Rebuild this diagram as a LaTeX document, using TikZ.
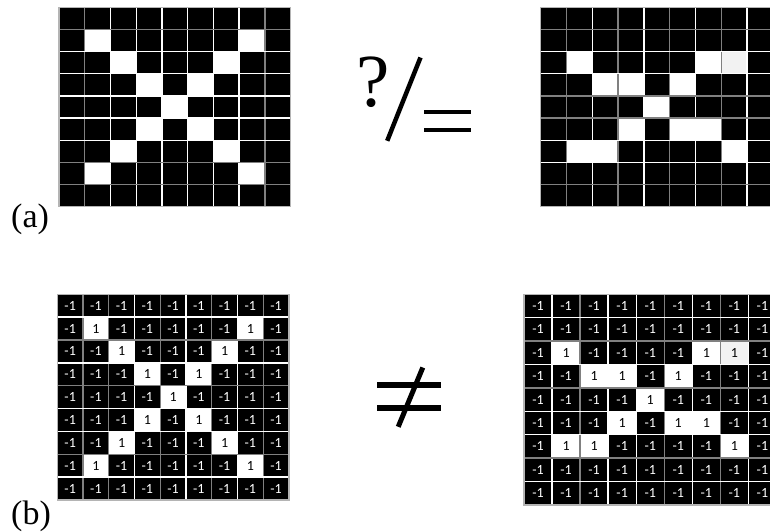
\documentclass[tikz,border=0pt]{standalone}
\usepackage{fontspec}
\setmainfont{Liberation Serif}
\newfontfamily\numfont{Carlito}
\definecolor{gridgray}{HTML}{808080}
\definecolor{bordergray}{HTML}{B4B4B4}
\definecolor{cellgray}{HTML}{F2F2F2}
\tikzset{
  gl0/.style={white,line width=1.4pt},
  gl1/.style={gridgray,line width=1.4pt},
  gridborder/.style={bordergray,line width=1.4pt},
  numtxt/.style={font=\numfont\fontsize{14}{14}\selectfont,inner sep=0pt},
  lbl/.style={font=\fontsize{34}{34}\selectfont,inner sep=0pt,anchor=base west},
  symline/.style={black,line width=4.5pt},
}
% #1 name, #2 x0, #3 y0, #4 cw, #5 ch, #6 rows, #7 numbers (1/0)
\newcommand\cellgrid[7]{%
  \foreach \crow [count=\r from 0] in {#6} {
    \foreach \cv [count=\c from 0] in \crow {
      \ifcase\cv\relax
        \def\cfill{black}\def\ctxt{white}\def\cval{-1}%
      \or
        \def\cfill{white}\def\ctxt{black}\def\cval{1}%
      \or
        \def\cfill{cellgray}\def\ctxt{black}\def\cval{1}%
      \fi
      \fill[\cfill] ({#2+\c*#4},{#3-\r*#5}) rectangle ++(#4,-#5);
      \ifnum#7=1
        \node[numtxt,text=\ctxt] (#1-\r-\c) at ({#2+(\c+0.5)*#4},{#3-(\r+0.5)*#5}) {\cval};
      \fi
    }
  }
}
% #1 x0, #2 y0, #3 cw, #4 ch, #5 vertical colours, #6 horizontal colours
\newcommand\gridlines[6]{%
  \foreach \g [count=\i] in {#5} {
    \draw[gl\g] ({#1+\i*#3},{#2}) -- ({#1+\i*#3},{#2-9*#4});
  }
  \foreach \g [count=\i] in {#6} {
    \draw[gl\g] ({#1},{#2-\i*#4}) -- ({#1+9*#3},{#2-\i*#4});
  }
  \draw[gridborder] (#1,#2) rectangle ({#1+9*#3},{#2-9*#4});
}
\begin{document}
\begin{tikzpicture}[x=1pt,y=1pt]
\useasboundingbox (0,0) rectangle (770,-531);
\clip (0,0) rectangle (770,-531);
% (a) left
\cellgrid{al}{59}{-7.3}{25.74}{22.16}{
 {0,0,0,0,0,0,0,0,0},
 {0,1,0,0,0,0,0,1,0},
 {0,0,1,0,0,0,1,0,0},
 {0,0,0,1,0,1,0,0,0},
 {0,0,0,0,1,0,0,0,0},
 {0,0,0,1,0,1,0,0,0},
 {0,0,1,0,0,0,1,0,0},
 {0,1,0,0,0,0,0,1,0},
 {0,0,0,0,0,0,0,0,0}}{0}
\gridlines{59}{-7.3}{25.74}{22.16}{1,0,0,0,0,0,0,1}{1,0,0,0,0,0,1,1}
% (a) right
\cellgrid{ar}{540.7}{-7.3}{25.8}{22.16}{
 {0,0,0,0,0,0,0,0,0},
 {0,0,0,0,0,0,0,0,0},
 {0,1,0,0,0,0,1,2,0},
 {0,0,1,1,0,1,0,0,0},
 {0,0,0,0,1,0,0,0,0},
 {0,0,0,1,0,1,1,0,0},
 {0,1,1,0,0,0,0,1,0},
 {0,0,0,0,0,0,0,0,0},
 {0,0,0,0,0,0,0,0,0}}{0}
\gridlines{540.7}{-7.3}{25.8}{22.16}{1,0,1,0,1,0,1,0}{1,0,0,1,1,0,0,1}
% (b) left
\cellgrid{bl}{57.3}{-294.3}{25.74}{22.86}{
 {0,0,0,0,0,0,0,0,0},
 {0,1,0,0,0,0,0,1,0},
 {0,0,1,0,0,0,1,0,0},
 {0,0,0,1,0,1,0,0,0},
 {0,0,0,0,1,0,0,0,0},
 {0,0,0,1,0,1,0,0,0},
 {0,0,1,0,0,0,1,0,0},
 {0,1,0,0,0,0,0,1,0},
 {0,0,0,0,0,0,0,0,0}}{1}
\gridlines{57.3}{-294.3}{25.74}{22.86}{1,1,0,1,0,1,0,1}{0,1,0,1,0,0,1,0}
% (b) right
\cellgrid{br}{524}{-294.3}{28.05}{23.41}{
 {0,0,0,0,0,0,0,0,0},
 {0,0,0,0,0,0,0,0,0},
 {0,1,0,0,0,0,1,2,0},
 {0,0,1,1,0,1,0,0,0},
 {0,0,0,0,1,0,0,0,0},
 {0,0,0,1,0,1,1,0,0},
 {0,1,1,0,0,0,0,1,0},
 {0,0,0,0,0,0,0,0,0},
 {0,0,0,0,0,0,0,0,0}}{1}
\gridlines{524}{-294.3}{28.05}{23.41}{0,1,0,0,1,0,1,0}{0,1,0,1,0,0,1,0}
% labels
\node[lbl] (la) at (11,-227) {(a)};
\node[lbl] (lb) at (11,-524) {(b)};
% ?/=
\node[font=\fontsize{75}{75}\selectfont,inner sep=0pt,anchor=base] (q) at (373.5,-106) {?};
\coordinate (s1) at (420.5,-57.5);
\coordinate (s2) at (387.2,-140.8);
\draw[symline] (s1) -- (s2);
\coordinate (e1) at (424,-112); \coordinate (e2) at (470.7,-112);
\coordinate (e3) at (424,-130); \coordinate (e4) at (470.7,-130);
\draw[symline] (e1) -- (e2);
\draw[symline] (e3) -- (e4);
% not equal
\coordinate (n1) at (377.3,-385); \coordinate (n2) at (440.7,-385);
\coordinate (n3) at (377.3,-407.7); \coordinate (n4) at (440.7,-407.7);
\draw[black,line width=6pt] (n1) -- (n2);
\draw[black,line width=6pt] (n3) -- (n4);
\coordinate (n5) at (422.8,-367.5); \coordinate (n6) at (398.2,-426.8);
\draw[black,line width=5pt] (n5) -- (n6);
\end{tikzpicture}
\end{document}
